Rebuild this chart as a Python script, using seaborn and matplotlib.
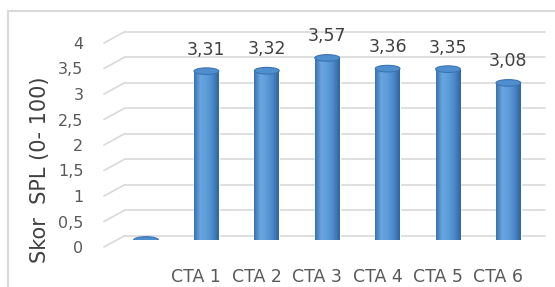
import numpy as np
import matplotlib
matplotlib.use('Agg')
import matplotlib.pyplot as plt
import matplotlib.transforms as mtransforms
from matplotlib.colors import LinearSegmentedColormap
from matplotlib.patches import Ellipse
from matplotlib.lines import Line2D
import seaborn as sns

# data
categories = ["", "CTA 1", "CTA 2", "CTA 3", "CTA 4", "CTA 5", "CTA 6"]
values = [0, 3.31, 3.32, 3.57, 3.36, 3.35, 3.08]
yticks = [0, 0.5, 1, 1.5, 2, 2.5, 3, 3.5, 4]
ytick_labels = ["0", "0,5", "1", "1,5", "2", "2,5", "3", "3,5", "4"]
value_labels = ["" if v == 0 else f"{v:.2f}".replace(".", ",") for v in values]

sns.set_style('white')
plt.rcParams['font.family'] = ['DejaVu Sans']

W, H, DPI = 555, 287, 100
fig = plt.figure(figsize=(W / DPI, H / DPI), dpi=DPI)
# axes = plane of the bars
ax = fig.add_axes([125 / W, (H - 240) / H, 420 / W, 204 / H])

sns.barplot(x=categories, y=values, width=0.41, color='#5B9BD5', ax=ax,
            saturation=1, zorder=2)

ax.set_xlim(-0.348, 6.606)
ax.set_ylim(0, 4)
for s in ax.spines.values():
    s.set_visible(False)

px = lambda dx, dy: mtransforms.ScaledTranslation(dx / DPI, dy / DPI, fig.dpi_scale_trans)
grid_col = '#D9D9D9'

# back wall gridlines + perspective lines on the left wall
blend = mtransforms.blended_transform_factory(ax.transAxes, ax.transData)
for v in yticks:
    back = blend + px(0, 4.5)
    ax.add_line(Line2D([0, 1], [v, v], transform=back, color=grid_col, lw=1.2,
                       zorder=0, clip_on=False))
    ax.annotate("", xy=(0, v), xycoords=back,
                xytext=(-21 * 0.72, -11.5 * 0.72), textcoords='offset points',
                arrowprops=dict(arrowstyle='-', color=grid_col, lw=1.2,
                                shrinkA=0, shrinkB=0), zorder=0)

# cylinder look for the bars
cmap = LinearSegmentedColormap.from_list(
    'cyl', ['#3A72B0', '#6AA6E0', '#5E9DDA', '#4B88C8', '#2F64A0'])
grad = np.linspace(0, 1, 64).reshape(1, -1)
cap_h = 0.13
for patch in ax.patches[:len(values)]:
    x0, w, h = patch.get_x(), patch.get_width(), patch.get_height()
    xc = x0 + w / 2
    patch.set_alpha(0)
    if h > 0:
        im = ax.imshow(grad, cmap=cmap, aspect='auto', extent=(x0, x0 + w, 0, h),
                       zorder=2, interpolation='bicubic')
        im.set_clip_path(patch)
        patch.set_alpha(1)
        patch.set_facecolor('none')
        bot = Ellipse((xc, 0), w, cap_h, facecolor='none', edgecolor='none')
        ax.add_patch(bot)
        im2 = ax.imshow(grad, cmap=cmap, aspect='auto',
                        extent=(x0, x0 + w, -cap_h, 0), zorder=2,
                        interpolation='bicubic')
        im2.set_clip_path(bot)
    cap = Ellipse((xc, h), w, cap_h, facecolor='#4F8ECF', edgecolor='#3B73B2',
                  lw=0.8, zorder=3)
    ax.add_patch(cap)

ax.set_xlim(-0.348, 6.606)
ax.set_ylim(0, 4)

# value labels
ax.bar_label(ax.containers[0], labels=value_labels, padding=9, fontsize=12.5,
             color='#404040')

# y ticks at the front edge
ax.set_yticks(yticks)
ax.set_yticklabels(ytick_labels)
ax.tick_params(axis='y', length=0, pad=30, labelsize=11.5, labelcolor='#595959')
for lab in ax.get_yticklabels():
    lab.set_transform(lab.get_transform() + px(0, -7))

# x tick labels
ax.tick_params(axis='x', length=0, pad=20, labelsize=12.5, labelcolor='#595959')
for lab in ax.get_xticklabels():
    lab.set_transform(lab.get_transform() + px(-10, 0))

ax.set_ylabel("Skor  SPL (0- 100)", fontsize=15, color='#404040')
ax.yaxis.set_label_coords(-0.178, 0.343)

# outer chart frame (left and top edges)
fig.add_artist(Line2D([8 / W, 8 / W], [0, 1 - 11 / H], transform=fig.transFigure,
                      color=grid_col, lw=1.5))
fig.add_artist(Line2D([8 / W, 1], [1 - 11 / H, 1 - 11 / H], transform=fig.transFigure,
                      color=grid_col, lw=1.5))

fig.savefig('out.png', dpi=DPI)
